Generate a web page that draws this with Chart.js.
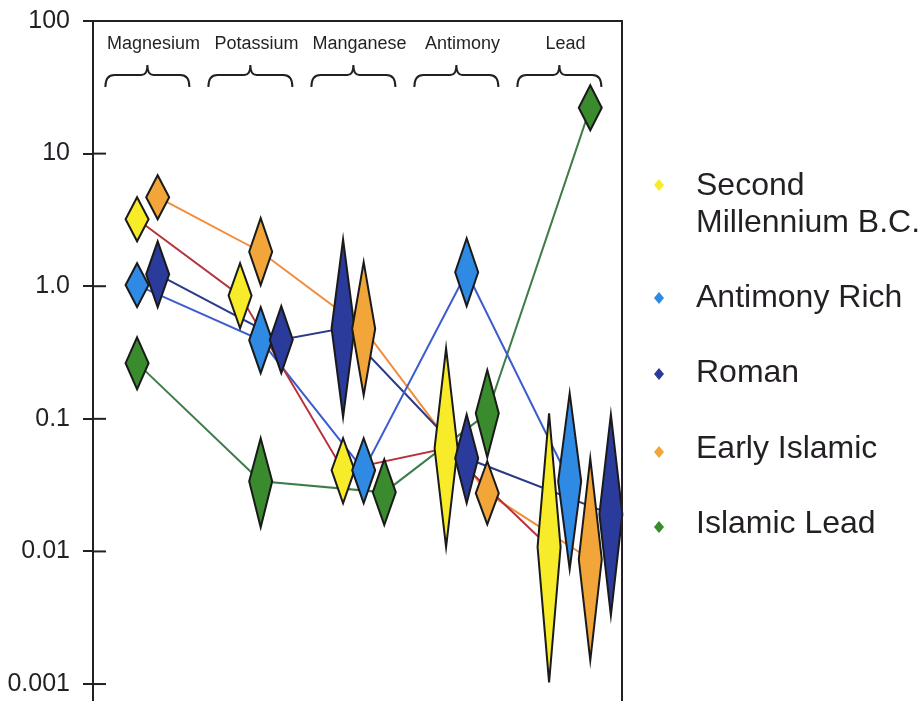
<!DOCTYPE html>
<html>
<head>
<meta charset="utf-8">
<script src="https://cdn.jsdelivr.net/npm/chart.js@4/dist/chart.umd.min.js"></script>
<style>
  html, body { margin: 0; padding: 0; background: #ffffff; }
  #wrap { width: 924px; height: 701px; }
</style>
</head>
<body>
<div id="wrap"><canvas id="c" width="924" height="701"></canvas></div>
<script>
// ---------- data ----------
const elements = ['Magnesium', 'Potassium', 'Manganese', 'Antimony', 'Lead'];
const seriesNames = ['Second Millennium B.C.', 'Antimony Rich', 'Roman', 'Early Islamic', 'Islamic Lead'];
const legendLines = [['Second', 'Millennium B.C.'], ['Antimony Rich'], ['Roman'], ['Early Islamic'], ['Islamic Lead']];

const tickValues = [0.001, 0.01, 0.1, 1, 10, 100];
const tickLabels = ['0.001', '0.01', '0.1', '1.0', '10', '100'];

// within-group position (slot) of each series' diamond
const secondMillSlot = [0, 0, 0, 0, 0];
const antimonyRichSlot = [0, 1, 1, 1, 1];
const romanSlot = [1, 2, 0, 1, 3];
const earlyIslamicSlot = [1, 1, 1, 2, 2];
const islamicLeadSlot = [0, 1, 2, 2, 2];

// central values (diamond widest point, line vertex)
const secondMillMid = [3.2, 0.85, 0.041, 0.060, 0.0108];
const antimonyRichMid = [1.02, 0.392, 0.041, 1.275, 0.0338];
const romanMid = [1.23, 0.395, 0.482, 0.0504, 0.0191];
const earlyIslamicMid = [4.69, 1.82, 0.478, 0.0275, 0.00873];
const islamicLeadMid = [0.263, 0.0338, 0.0279, 0.110, 22.2];

// upper ends of the diamonds
const secondMillHigh = [4.69, 1.49, 0.0714, 0.34, 0.110];
const antimonyRichHigh = [1.49, 0.695, 0.0714, 2.30, 0.156];
const romanHigh = [2.18, 0.707, 2.26, 0.108, 0.108];
const earlyIslamicHigh = [6.87, 3.26, 1.52, 0.0479, 0.0504];
const islamicLeadHigh = [0.412, 0.0714, 0.0496, 0.233, 32.8];

// lower ends of the diamonds
const secondMillLow = [2.18, 0.482, 0.0231, 0.0108, 0.00103];
const antimonyRichLow = [0.695, 0.221, 0.0231, 0.707, 0.00734];
const romanLow = [0.695, 0.221, 0.1028, 0.0231, 0.0033];
const earlyIslamicLow = [3.2, 1.02, 0.1507, 0.016, 0.00151];
const islamicLeadLow = [0.167, 0.0152, 0.0158, 0.0513, 15.0];

// ---------- styling ----------
const FONT = '"Liberation Sans", Arial, Helvetica, sans-serif';
const INK = '#231f24';
const GROUP_WIDTH = 5; // slots per element group
const fills = ['#f8ec2a', '#2f8ae4', '#2a3b9c', '#f2a63a', '#3a8a2e'];
const lineColors = ['#b8323c', '#3d5cce', '#2c3a8a', '#f28c3c', '#3e7c4c'];

const slots = [secondMillSlot, antimonyRichSlot, romanSlot, earlyIslamicSlot, islamicLeadSlot];
const mids = [secondMillMid, antimonyRichMid, romanMid, earlyIslamicMid, islamicLeadMid];
const highs = [secondMillHigh, antimonyRichHigh, romanHigh, earlyIslamicHigh, islamicLeadHigh];
const lows = [secondMillLow, antimonyRichLow, romanLow, earlyIslamicLow, islamicLeadLow];

const datasets = seriesNames.map((name, s) => ({
  label: name,
  data: elements.map((el, g) => ({ x: g * GROUP_WIDTH + slots[s][g], y: mids[s][g], hi: highs[s][g], lo: lows[s][g] })),
  showLine: true,
  borderColor: lineColors[s],
  backgroundColor: fills[s],
  borderWidth: 2,
  pointRadius: 0,
  tension: 0,
  fill: false
}));

// ---------- plugins ----------
const diamondPlugin = {
  id: 'diamonds',
  afterDatasetsDraw(chart) {
    const ctx = chart.ctx;
    const xs = chart.scales.x, ys = chart.scales.y;
    const hw = 11.5;
    ctx.save();
    chart.data.datasets.forEach((ds) => {
      ds.data.forEach(p => {
        const x = xs.getPixelForValue(p.x);
        const yt = ys.getPixelForValue(p.hi);
        const ym = ys.getPixelForValue(p.y);
        const yb = ys.getPixelForValue(p.lo);
        ctx.beginPath();
        ctx.moveTo(x, yt);
        ctx.lineTo(x + hw, ym);
        ctx.lineTo(x, yb);
        ctx.lineTo(x - hw, ym);
        ctx.closePath();
        ctx.fillStyle = ds.backgroundColor;
        ctx.fill();
        ctx.lineWidth = 2;
        ctx.lineJoin = 'miter';
        ctx.strokeStyle = '#1a1a1a';
        ctx.stroke();
      });
    });
    ctx.restore();
  }
};

const decorPlugin = {
  id: 'decor',
  afterDraw(chart) {
    const ctx = chart.ctx;
    const xs = chart.scales.x, ys = chart.scales.y;
    const a = chart.chartArea;
    ctx.save();
    ctx.strokeStyle = INK;
    ctx.lineWidth = 2;
    // frame: top and right
    ctx.beginPath();
    ctx.moveTo(a.left - 10, a.top);
    ctx.lineTo(a.right, a.top);
    ctx.lineTo(a.right, a.bottom);
    ctx.stroke();
    // inner halves of the tick marks
    tickValues.forEach(v => {
      const y = ys.getPixelForValue(v);
      ctx.beginPath();
      ctx.moveTo(a.left, y);
      ctx.lineTo(a.left + 13, y);
      ctx.stroke();
    });
    // element labels and braces
    ctx.fillStyle = INK;
    ctx.font = '18px ' + FONT;
    ctx.textAlign = 'center';
    ctx.textBaseline = 'alphabetic';
    elements.forEach((el, g) => {
      const c = xs.getPixelForValue(g * GROUP_WIDTH + 0.5);
      const lx = xs.getPixelForValue(g * GROUP_WIDTH + 0.8);
      ctx.fillText(el, lx, 49);
      const L = c - 42, R = c + 42;
      const yMid = 75, yTip = 65, yEnd = 87;
      ctx.beginPath();
      ctx.moveTo(L, yEnd);
      ctx.quadraticCurveTo(L, yMid, L + 9, yMid);
      ctx.lineTo(c - 6, yMid);
      ctx.quadraticCurveTo(c, yMid, c, yTip);
      ctx.quadraticCurveTo(c, yMid, c + 6, yMid);
      ctx.lineTo(R - 9, yMid);
      ctx.quadraticCurveTo(R, yMid, R, yEnd);
      ctx.stroke();
    });
    // legend
    const markerX = 659, textX = 696;
    const baselines = [195, 307, 382, 458, 533];
    const markerY = [185, 298, 374, 452, 527];
    ctx.font = '32px ' + FONT;
    ctx.textAlign = 'left';
    chart.data.datasets.forEach((ds, s) => {
      ctx.beginPath();
      ctx.moveTo(markerX, markerY[s] - 6);
      ctx.lineTo(markerX + 5, markerY[s]);
      ctx.lineTo(markerX, markerY[s] + 6);
      ctx.lineTo(markerX - 5, markerY[s]);
      ctx.closePath();
      ctx.fillStyle = ds.backgroundColor;
      ctx.fill();
      ctx.fillStyle = INK;
      legendLines[s].forEach((t, k) => ctx.fillText(t, textX, baselines[s] + k * 37));
    });
    ctx.restore();
  }
};

const bgPlugin = {
  id: 'bg',
  beforeDraw(chart) {
    const ctx = chart.ctx;
    ctx.save();
    ctx.fillStyle = '#ffffff';
    ctx.fillRect(0, 0, chart.width, chart.height);
    ctx.restore();
  }
};

new Chart(document.getElementById('c'), {
  type: 'line',
  data: { datasets },
  options: {
    responsive: false,
    animation: false,
    layout: { padding: { left: 0, top: 21, right: 302, bottom: 0 } },
    plugins: { legend: { display: false }, tooltip: { enabled: false } },
    scales: {
      x: { type: 'linear', min: -2.14, max: 23.54, display: false },
      y: {
        type: 'logarithmic',
        position: 'left',
        min: 0.000745,
        max: 100,
        afterBuildTicks: (s) => { s.ticks = tickValues.map(v => ({ value: v })); },
        afterFit: (s) => { s.width = 93; s.paddingTop = 0; s.paddingBottom = 0; },
        ticks: {
          autoSkip: false,
          padding: 13,
          color: INK,
          font: { family: FONT, size: 25 },
          callback: (v) => { const i = tickValues.indexOf(v); return i >= 0 ? tickLabels[i] : ''; }
        },
        grid: { drawOnChartArea: false, drawTicks: true, tickLength: 10, color: INK, lineWidth: 2 },
        border: { display: true, color: INK, width: 2 }
      }
    }
  },
  plugins: [bgPlugin, diamondPlugin, decorPlugin]
});
</script>
</body>
</html>
